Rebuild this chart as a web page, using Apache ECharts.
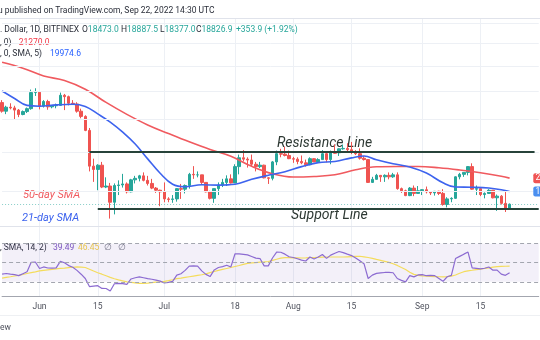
<!DOCTYPE html>
<html><head><meta charset="utf-8">
<script src="https://cdn.jsdelivr.net/npm/echarts@6/dist/echarts.min.js"></script>
<style>html,body{margin:0;padding:0;background:#fff;overflow:hidden}#c{width:540px;height:340px}</style>
</head><body><div id="c"></div>
<script>
// ---------- data ----------
const firstDay = [2022, 4, 23];          // 2022-05-23
const categoryCount = 130;               // includes empty future days on the right
const open = [
 30300,29100,29650,29550,29250,28650,29050,29450,31750,
 31800,29800,30450,29700,29850,29900,31350,31150,30200,30100,29100,28400,26600,22500,22150,22600,20400,20500,19000,20550,20600,20700,19950,21100,21250,21500,21050,20750,20300,20100,
 19950,19300,19250,19300,20250,20200,20550,21650,21600,21600,20850,19950,19350,20250,20600,20850,21200,20800,22450,23400,23250,23150,22700,22450,22600,21300,21250,22950,23850,23800,23650,
 23300,23250,23000,22850,22650,23300,22950,23200,23850,23200,23950,23950,24400,24450,24300,24100,23850,23350,23200,20850,21150,21550,21400,21550,21400,21600,20250,20050,19600,20300,19800,
 20050,20150,19950,19850,20000,19800,18800,19300,19350,21400,21650,21850,22450,20200,20250,19700,19800,20100,19400,19550,18900,18473.0];
const high = [
 30650,29850,30200,29850,29400,29200,29600,32200,32400,
 31950,30650,30700,29950,30150,31750,31550,31300,30650,30350,29450,28550,26900,23300,22700,22950,21350,20800,20750,21050,21700,20850,21200,21500,21600,21850,21500,21200,20400,20150,
 20850,19450,19650,20300,20700,20650,21800,22500,21950,21600,20850,20050,20250,20850,21200,21550,21650,22700,23750,24250,23450,23750,22950,22950,22650,21350,23050,24200,24400,24650,24200,
 23500,23450,23650,23200,23450,23350,23350,24250,23950,24200,24900,24450,24900,25050,25200,24250,24450,23600,23200,21400,21700,21550,21650,21850,21800,21850,20350,20150,20400,20550,20500,
 20200,20450,20000,20000,20050,20200,19450,19450,21450,21800,21850,22500,22800,20550,20350,19900,20200,20100,19700,19650,19950,18887.5];
const low = [
 28900,28700,29350,28050,28300,28550,28850,29300,31250,
 29350,29600,29300,29500,29500,29850,29250,29900,29950,28900,28150,26500,21950,20900,20100,20300,20300,17600,17950,19650,20350,19800,19900,20750,20950,20950,20550,20200,19850,18650,
 19000,19000,18950,19050,19300,19800,20250,21200,21350,20700,19900,19250,18950,19650,20400,20500,20750,20800,21650,23000,22350,22450,21950,22300,21250,20700,21050,22600,23450,23550,23250,
 22850,22700,22700,22450,22600,22950,22900,23200,22900,22700,23850,23600,24300,24150,23800,23700,23200,23100,20800,20800,21100,20900,20900,21150,21300,20150,19850,19550,19550,19550,19800,
 19650,19800,19650,19600,19650,18700,18550,19000,19300,21150,21400,21550,20150,19650,19550,19350,19750,19350,18250,18800,18150,18377.0];
const close = [
 29100,29650,29550,29250,28650,29050,29450,31750,31800,
 29800,30450,29700,29850,29900,31350,31150,30200,30100,29100,28400,26600,22500,22150,22600,20400,20500,19000,20550,20600,20700,19950,21100,21250,21500,21050,20750,20300,20100,19950,
 19300,19250,19300,20250,20200,20550,21650,21600,21600,20850,19950,19350,20250,20600,20850,21200,20800,22450,23400,23250,23150,22700,22450,22600,21300,21250,22950,23850,23800,23650,23300,
 23250,23000,22850,22650,23300,22950,23200,23850,23200,23950,23900,24400,24450,24300,24100,23850,23350,23200,20850,21150,21550,21400,21550,21400,21600,20250,20050,19600,20300,19800,20050,
 20150,19950,19850,20000,19800,18800,19300,19350,21400,21650,21850,22450,20200,20250,19700,19800,20100,19400,19550,18900,18473,18826.9];
// 50-day SMA, sampled along the red line
const sma50 = [['2022-05-23',36590],['2022-05-28',35590],['2022-06-02',34320],['2022-06-07',33600],['2022-06-12',32250],
 ['2022-06-17',30320],['2022-06-22',28670],['2022-06-27',27290],['2022-07-02',26210],['2022-07-07',25210],['2022-07-12',24320],
 ['2022-07-17',23560],['2022-07-22',22480],['2022-07-27',21710],['2022-08-01',21380],['2022-08-06',21440],['2022-08-11',21610],
 ['2022-08-16',22120],['2022-08-21',22430],['2022-08-26',22460],['2022-08-31',22460],['2022-09-05',22330],['2022-09-10',22100],
 ['2022-09-15',21810],['2022-09-20',21460],['2022-09-22',21270.0]];
// 21-day SMA, sampled along the blue line
const sma21 = [['2022-05-23',31990],['2022-05-26',30890],['2022-05-29',29900],['2022-06-01',29790],['2022-06-05',29970],
 ['2022-06-09',30070],['2022-06-12',29760],['2022-06-15',28730],['2022-06-18',27650],['2022-06-21',26380],['2022-06-24',24950],
 ['2022-06-27',23280],['2022-06-30',21760],['2022-07-03',20670],['2022-07-06',20430],['2022-07-10',20620],['2022-07-14',20590],
 ['2022-07-18',20670],['2022-07-22',21160],['2022-07-26',21560],['2022-07-30',21910],['2022-08-03',22450],['2022-08-07',22870],
 ['2022-08-11',22990],['2022-08-15',23390],['2022-08-18',23590],['2022-08-21',23180],['2022-08-25',22750],['2022-08-29',22410],
 ['2022-09-02',21780],['2022-09-06',20810],['2022-09-09',20400],['2022-09-13',20380],['2022-09-17',20310],['2022-09-20',20150],
 ['2022-09-22',19974.6]];
const rsi = [
 38,38.7,38,37.5,36.5,38.5,40.5,50.5,50.8,
 44,45.6,44.5,44.3,44.6,51.5,50,47,45.3,42,38,33.5,25,25.5,26,23.1,23,20.3,28,28.3,28.2,27.3,33,34.3,35.2,34.3,33.3,32.7,31.8,30.7,
 28.8,29.5,30.5,37,38.5,42,46.5,46.7,46.5,41.5,37.8,35.5,42.5,45,46,47.4,45.6,59.4,59.3,58.8,58.2,56.5,54.8,54.4,46.7,46.7,55,61.2,61,59,56.3,
 55.5,54.2,52.8,51.8,56,54,56,58.6,54.6,58,60,61.8,60.6,59,57.5,55,52,49,33.5,37,38.8,39.4,39.8,39.8,39.5,33.5,31.5,30,36.5,35.2,37.2,
 37.5,36.4,36.7,36.5,33.5,30.5,35.3,36.8,54.4,56.7,59,61.2,44.6,44.1,43.5,44.2,45.5,42.2,42.2,38,36.8,39.49];
const rsiMA = [
 33.8,34.6,35.3,36.1,36.8,37.7,38.7,39.7,40.5,
 41.4,42,42.5,43,43.5,44,44.4,44.9,45.3,45.6,45.4,45,43.2,41.3,39.5,38,36.3,34.6,33.2,32,31,30,29.4,28.8,28.4,28.3,28.6,29.2,29.6,30,
 30.5,31.2,32.2,33.3,33.9,34.6,35.3,36,36.7,37.4,38.4,39.6,40.8,42,43,44,45,46.1,47.1,48.3,49.3,49.8,50.2,50.6,50.9,51.3,52.5,53.7,54.9,55.4,55.3,
 55.2,55.1,55,55.1,55.3,55.5,55.7,55.9,56,56,56,56,56,56.2,56.4,56.6,56.8,56.2,55.5,54.6,53.5,52.5,51.5,50.4,49,47.2,45,43,40,37.8,36.8,
 36.3,35.9,35.7,35.5,35.3,35.2,35.5,35.9,37.2,39,40.6,41.5,42.1,42.8,43.4,44,44.7,45.5,45.9,46.1,46.3,46.45];
const priceGrid = [20000,24000,28000,32000,36000,40000,44000];
const tickDates = ['2022-06-01','2022-06-15','2022-07-01','2022-07-18','2022-08-01','2022-08-15','2022-09-01','2022-09-15'];
const tickLabels = ['Jun','15','Jul','18','Aug','15','Sep','15'];
const resistance = {from:'2022-06-13', to:'2022-09-28', value:24100};
const support = {from:'2022-06-15', to:'2022-09-29', value:18430};
const rsiBands = [70,50,30];

// ---------- build ----------
const dates = [];
for (let i = 0; i < categoryCount; i++) {
  const d = new Date(Date.UTC(firstDay[0], firstDay[1], firstDay[2] + i));
  dates.push(d.toISOString().slice(0, 10));
}
const candles = close.map((c, i) => [open[i], c, low[i], high[i]]);
const n = close.length;

const UP = '#26a69a', DOWN = '#ef5350', RED = '#f05a5f', BLUE = '#3d63ee';
const FONT = 'Roboto, "Noto Sans", sans-serif';
const GRIDC = '#edf0f5';
const isTick = (i, v) => tickDates.indexOf(v) >= 0;

const chart = echarts.init(document.getElementById('c'), null, {renderer: 'canvas'});

function txt(x, y, text, color, size, extra) {
  return {type: 'text', x: x, y: y, silent: true,
    style: Object.assign({text: text, fill: color, font: (size || 8.5) + 'px ' + FONT, textVerticalAlign: 'middle'}, extra || {})};
}
function rtxt(x, y, parts) {
  let s = '', rich = {};
  parts.forEach((p, k) => { s += '{s' + k + '|' + p[0] + '}'; rich['s' + k] = {fill: p[1], font: '8.5px ' + FONT}; });
  return {type: 'text', x: x, y: y, silent: true, style: {text: s, rich: rich, textVerticalAlign: 'middle', font: '8.5px ' + FONT}};
}
function hline(y, color) {
  return {type: 'line', silent: true, shape: {x1: 0, y1: y, x2: 540, y2: y}, style: {stroke: color, lineWidth: 1}};
}

const last = n - 1;
const chg = close[last] - close[last - 1];
const pct = chg / close[last - 1] * 100;
const DK = '#2a2e39';

const graphics = [
  hline(18.5, '#e0e3eb'), hline(226.5, '#e0e3eb'), hline(315.5, '#eef0f3'),
  txt(-2, 10.7, 'u published on TradingView.com, Sep 22, 2022 14:30 UTC', '#2a2e39', 8.5),
  txt(0, 29.8, '. Dollar, 1D, BITFINEX', DK, 8.5),
  rtxt(82, 29.8, [['O', DK], [open[last].toFixed(1), UP]]),
  rtxt(121, 29.8, [['H', DK], [high[last].toFixed(1), UP]]),
  rtxt(160, 29.8, [['L', DK], [low[last].toFixed(1), UP]]),
  rtxt(196, 29.8, [['C', DK], [close[last].toFixed(1), UP]]),
  txt(236, 29.8, '+' + chg.toFixed(1) + ' (+' + pct.toFixed(2) + '%)', UP, 8.5),
  txt(0, 42.4, ', 0)', DK, 8.5),
  txt(18.7, 42.4, sma50[sma50.length - 1][1].toFixed(1), '#f23645', 8.5),
  txt(0, 54.2, ', 0, SMA, 5)', DK, 8.5),
  txt(50, 54.2, sma21[sma21.length - 1][1].toFixed(1), '#2962ff', 8.5),
  txt(0, 248.3, ', SMA, 14, 2)', DK, 8.5),
  txt(53, 248.3, rsi[last].toFixed(2), '#7e57c2', 8.5),
  txt(78, 248.3, rsiMA[last].toFixed(2), '#f2d048', 8.5),
  txt(104, 248.3, '\u2205', '#787b86', 8.5),
  txt(118, 248.3, '\u2205', '#787b86', 8.5),
  txt(0, 327.7, 'ew', '#50535e', 8.5),
  txt(277, 143.3, 'Resistance Line', '#2e3934', 14, {font: 'italic 14px ' + FONT}),
  txt(291, 215.5, 'Support Line', '#2e3934', 14, {font: 'italic 14px ' + FONT}),
  txt(23, 195, '50-day SMA', RED, 11, {font: 'italic 11px ' + FONT}),
  txt(22, 218, '21-day SMA', BLUE, 11, {font: 'italic 11px ' + FONT})
];

const option = {
  animation: false,
  backgroundColor: '#fff',
  grid: [
    {left: 2.08, right: 1.28, top: 18, height: 208},
    {left: 2.08, right: 1.28, top: 226.5, height: 70.2}
  ],
  xAxis: [
    {type: 'category', gridIndex: 0, data: dates, boundaryGap: false,
     axisLine: {show: false}, axisTick: {show: false}, axisLabel: {show: false},
     splitLine: {show: true, interval: isTick, lineStyle: {color: GRIDC, width: 1}}},
    {type: 'category', gridIndex: 1, data: dates, boundaryGap: false,
     axisLine: {show: true, lineStyle: {color: '#a3a6af', width: 1}}, axisTick: {show: false},
     axisLabel: {show: true, interval: isTick, formatter: v => tickLabels[tickDates.indexOf(v)] || '',
       color: '#50535e', fontSize: 8.5, fontFamily: FONT, margin: 6},
     splitLine: {show: true, interval: isTick, lineStyle: {color: GRIDC, width: 1}}}
  ],
  yAxis: [
    {type: 'log', gridIndex: 0, min: 17000, max: 45020, show: false, splitLine: {show: false}},
    {type: 'value', gridIndex: 1, min: 14.4, max: 88, show: false, splitLine: {show: false}}
  ],
  series: [
    {type: 'line', xAxisIndex: 0, yAxisIndex: 0, data: [], z: 0, silent: true,
     markLine: {silent: true, symbol: 'none', label: {show: false}, animation: false,
       lineStyle: {color: GRIDC, width: 1, type: 'solid'},
       data: priceGrid.map(v => ({yAxis: v}))}},
    {type: 'candlestick', xAxisIndex: 0, yAxisIndex: 0, data: candles, barWidth: 3, clip: false, z: 3,
     itemStyle: {color: UP, color0: DOWN, borderColor: UP, borderColor0: DOWN, borderWidth: 1},
     markLine: {silent: true, symbol: 'none', label: {show: false}, animation: false,
       data: [
         {yAxis: close[last], lineStyle: {color: 'rgba(38,166,154,0.55)', type: [1, 2], width: 1}},
         [{coord: [resistance.from, resistance.value]}, {coord: [resistance.to, resistance.value]}],
         [{coord: [support.from, support.value]}, {coord: [support.to, support.value]}]
       ],
       lineStyle: {color: '#27433a', width: 2, type: 'solid'}}},
    {type: 'line', xAxisIndex: 0, yAxisIndex: 0, data: sma50, smooth: 0.4, showSymbol: false, z: 4, silent: true,
     lineStyle: {color: RED, width: 1.6}},
    {type: 'line', xAxisIndex: 0, yAxisIndex: 0, data: sma21, smooth: 0.4, showSymbol: false, z: 4, silent: true,
     lineStyle: {color: BLUE, width: 1.6}},
    {type: 'line', xAxisIndex: 1, yAxisIndex: 1, data: [], z: 0, silent: true,
     markArea: {silent: true, itemStyle: {color: 'rgba(126,87,194,0.09)'}, data: [[{yAxis: rsiBands[2]}, {yAxis: rsiBands[0]}]]},
     markLine: {silent: true, symbol: 'none', label: {show: false},
       lineStyle: {color: '#a3a6af', width: 1, type: [4, 3]},
       data: rsiBands.map(v => ({yAxis: v}))}},
    {type: 'line', xAxisIndex: 1, yAxisIndex: 1, data: rsiMA, showSymbol: false, z: 3, silent: true,
     lineStyle: {color: '#f4dc5c', width: 1.2}},
    {type: 'line', xAxisIndex: 1, yAxisIndex: 1, data: rsi, showSymbol: false, z: 4, silent: true,
     lineStyle: {color: '#8c6bd1', width: 1.2}}
  ],
  graphic: graphics
};
chart.setOption(option);

// price-scale labels on the right edge (positions from the axis scale)
const lastDate = dates[last];
const y50 = chart.convertToPixel({gridIndex: 0}, [lastDate, sma50[sma50.length - 1][1]])[1];
const y21 = chart.convertToPixel({gridIndex: 0}, [lastDate, sma21[sma21.length - 1][1]])[1];
function tag(y, color, text) {
  return [{type: 'rect', silent: true, shape: {x: 533.3, y: y - 5, width: 20, height: 10, r: 2}, style: {fill: color}, z: 10},
          {type: 'text', silent: true, x: 535.5, y: y, z: 11, style: {text: text, fill: '#fff', font: '8.5px ' + FONT, textVerticalAlign: 'middle'}}];
}
chart.setOption({graphic: graphics.concat(tag(y50, '#f05454', sma50[sma50.length - 1][1].toFixed(1)), tag(y21, '#4a8ff0', sma21[sma21.length - 1][1].toFixed(1)))}, {replaceMerge: ['graphic']});
</script>
</body></html>
